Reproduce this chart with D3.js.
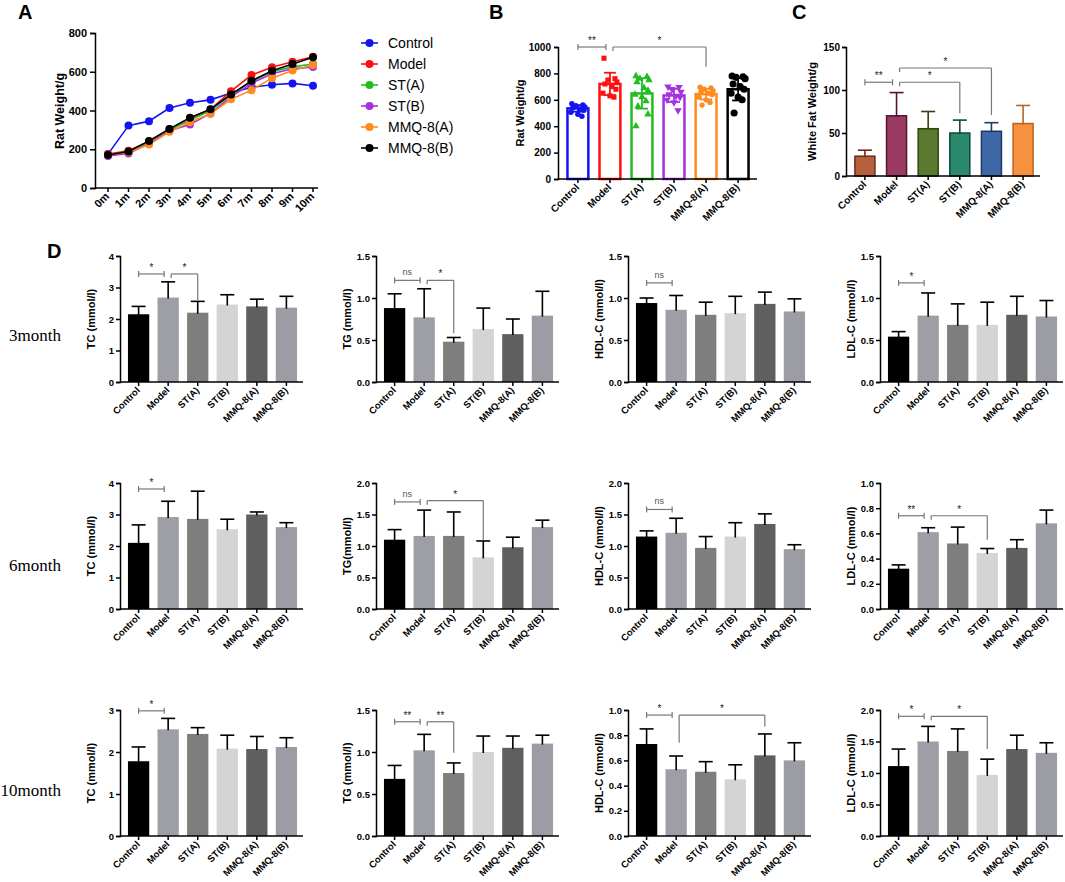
<!DOCTYPE html>
<html>
<head>
<meta charset="utf-8">
<style>
  body { margin: 0; background: #fff; }
  text { font-family: "Liberation Sans", Arial, sans-serif; }
</style>
</head>
<body>
<script src="https://cdn.jsdelivr.net/npm/d3@7"></script>
<script>
// ---- data ----
var groups = ["Control", "Model", "ST(A)", "ST(B)", "MMQ-8(A)", "MMQ-8(B)"];
var months = ["0m", "1m", "2m", "3m", "4m", "5m", "6m", "7m", "8m", "9m", "10m"];

// A: body weight over time
var wControl = [175, 322, 345, 413, 440, 455, 490, 520, 533, 540, 528];
var wModel   = [175, 192, 240, 305, 360, 405, 500, 583, 623, 652, 677];
var wSTA     = [170, 185, 235, 300, 350, 400, 480, 550, 600, 625, 640];
var wSTB     = [165, 178, 230, 295, 328, 385, 470, 540, 590, 615, 625];
var wMMQA    = [170, 185, 225, 290, 340, 383, 458, 505, 567, 607, 635];
var wMMQB    = [170, 188, 243, 305, 363, 407, 483, 553, 605, 640, 675];

// B: final body weight, mean, sd and single rats
var finalMean = [535, 720, 648, 633, 643, 680];
var finalSD   = [25, 85, 115, 50, 40, 85];
var ratsControl = [570, 560, 555, 545, 540, 530, 520, 505, 490, 475];
var ratsModel   = [915, 760, 750, 735, 720, 700, 680, 650, 630, 620];
var ratsSTA     = [780, 775, 760, 750, 735, 690, 670, 640, 620, 590, 550, 490, 400];
var ratsSTB     = [700, 695, 680, 660, 640, 630, 620, 600, 580, 520];
var ratsMMQA    = [695, 690, 680, 670, 660, 650, 640, 620, 600, 580, 560];
var ratsMMQB    = [780, 775, 770, 760, 720, 700, 680, 650, 620, 600, 500];

// C: white fat weight
var fatMean = [23, 70, 55, 50, 52, 61];
var fatTop  = [30, 97, 75, 65, 62, 82];

// D: blood lipids (mean, top of error bar)
var tc3   = [2.15, 2.68, 2.20, 2.46, 2.40, 2.36], tc3Top  = [2.40, 3.18, 2.56, 2.77, 2.63, 2.72];
var tg3   = [0.88, 0.77, 0.48, 0.63, 0.57, 0.79], tg3Top  = [1.05, 1.11, 0.53, 0.88, 0.75, 1.08];
var hdl3  = [0.94, 0.86, 0.80, 0.82, 0.93, 0.84], hdl3Top = [1.00, 1.03, 0.95, 1.02, 1.07, 0.99];
var ldl3  = [0.54, 0.79, 0.68, 0.68, 0.80, 0.78], ldl3Top = [0.60, 1.06, 0.93, 0.95, 1.02, 0.97];

var tc6   = [2.10, 2.92, 2.86, 2.53, 3.00, 2.60], tc6Top  = [2.67, 3.42, 3.74, 2.85, 3.08, 2.74];
var tg6   = [1.10, 1.16, 1.16, 0.82, 0.98, 1.30], tg6Top  = [1.26, 1.57, 1.54, 1.08, 1.14, 1.41];
var hdl6  = [1.15, 1.21, 0.97, 1.15, 1.35, 0.95], hdl6Top = [1.24, 1.44, 1.15, 1.37, 1.51, 1.02];
var ldl6  = [0.32, 0.61, 0.52, 0.445, 0.485, 0.68], ldl6Top = [0.35, 0.645, 0.65, 0.48, 0.55, 0.785];

var tc10  = [1.78, 2.54, 2.43, 2.08, 2.07, 2.12], tc10Top  = [2.12, 2.80, 2.58, 2.40, 2.37, 2.34];
var tg10  = [0.68, 1.02, 0.75, 1.00, 1.05, 1.10], tg10Top  = [0.84, 1.21, 0.87, 1.19, 1.19, 1.20];
var hdl10 = [0.73, 0.53, 0.51, 0.45, 0.64, 0.60], hdl10Top = [0.85, 0.635, 0.59, 0.565, 0.81, 0.74];
var ldl10 = [1.11, 1.50, 1.35, 0.97, 1.38, 1.32], ldl10Top = [1.38, 1.74, 1.70, 1.22, 1.60, 1.48];

// ---- styles ----
var lineColors = ["#1414f0", "#ff1010", "#22bb22", "#a530e0", "#ff8a1e", "#000000"];
var fatFill   = ["#b5613e", "#9b3a63", "#5b7a2e", "#2b8a6e", "#3f68a6", "#f6923f"];
var fatStroke = ["#6e2a14", "#55142f", "#2d4512", "#0f4a38", "#1d3766", "#b8641e"];
var grays = ["#000000", "#9e9ea6", "#7e7e7e", "#d4d4d4", "#5f5f5f", "#9c9ca4"];

var svg = d3.select("body").append("svg").attr("width", 1065).attr("height", 882);

function styleAxis(g, fs) {
  g.select(".domain").attr("stroke", "#000").attr("stroke-width", 1.5);
  g.selectAll(".tick line").attr("stroke", "#000").attr("stroke-width", 1.5);
  g.selectAll("text").attr("font-weight", "bold").attr("font-size", fs).attr("fill", "#000");
}

function panelLetter(t, x, y) {
  svg.append("text").attr("x", x).attr("y", y).attr("font-size", 20).attr("font-weight", "bold").text(t);
}

// x axis line + ticks + rotated labels for a band/point scale
function catAxis(g, x, x0, x1, y0, labels, fs, off) {
  g.append("line").attr("x1", x0).attr("x2", x1).attr("y1", y0).attr("y2", y0)
    .attr("stroke", "#000").attr("stroke-width", 1.5);
  labels.forEach(function (c) {
    var cx = x(c) + (x.bandwidth ? x.bandwidth() / 2 : 0);
    g.append("line").attr("x1", cx).attr("x2", cx).attr("y1", y0).attr("y2", y0 + 4)
      .attr("stroke", "#000").attr("stroke-width", 1.5);
    g.append("text").attr("transform", "translate(" + (cx + 2) + "," + (y0 + off) + ") rotate(-45)")
      .attr("text-anchor", "end").attr("font-size", fs).attr("font-weight", "bold").text(c);
  });
}

// significance bracket
function bracket(g, xa, xb, yy, label, yDrop, yLeftDrop) {
  var col = "#777";
  if (yDrop == null) {
    var xe = xb - 4;
    g.append("line").attr("x1", xa).attr("x2", xe).attr("y1", yy).attr("y2", yy).attr("stroke", col).attr("stroke-width", 1.2);
    g.append("line").attr("x1", xa).attr("x2", xa).attr("y1", yy - 3).attr("y2", yy + 3).attr("stroke", col).attr("stroke-width", 1.2);
    g.append("line").attr("x1", xe).attr("x2", xe).attr("y1", yy - 3).attr("y2", yy + 3).attr("stroke", col).attr("stroke-width", 1.2);
    xb = xe;
  } else {
    xa = xa + 3;
    g.append("line").attr("x1", xa).attr("x2", xb).attr("y1", yy).attr("y2", yy).attr("stroke", col).attr("stroke-width", 1.2);
    g.append("line").attr("x1", xa).attr("x2", xa).attr("y1", yy).attr("y2", yLeftDrop == null ? yy + 4 : yLeftDrop).attr("stroke", col).attr("stroke-width", 1.2);
    g.append("line").attr("x1", xb).attr("x2", xb).attr("y1", yy).attr("y2", yDrop).attr("stroke", col).attr("stroke-width", 1.2);
  }
  g.append("text").attr("x", (xa + xb) / 2).attr("y", label === "ns" ? yy - 5 : yy - 3)
    .attr("text-anchor", "middle").attr("font-size", label === "ns" ? 9 : 10)
    .attr("fill", label === "ns" ? "#555" : "#222").text(label);
}

// ---- A: line chart ----
(function () {
  var g = svg.append("g");
  var x = d3.scalePoint().domain(months).range([108, 313]);
  var y = d3.scaleLinear().domain([0, 800]).range([188, 33]);
  var ya = g.append("g").attr("transform", "translate(95,0)")
    .call(d3.axisLeft(y).tickValues([0, 200, 400, 600, 800]).tickSize(5).tickPadding(3));
  styleAxis(ya, 11);
  catAxis(g, x, 95, 318, 188, months, 11, 9);
  g.append("text").attr("transform", "translate(64,111) rotate(-90)").attr("text-anchor", "middle")
    .attr("font-size", 12.5).attr("font-weight", "bold").text("Rat Weight/g");
  var series = [wControl, wModel, wSTA, wSTB, wMMQA, wMMQB];
  var line = d3.line().x(function (d, i) { return x(months[i]); }).y(function (d) { return y(d); });
  series.forEach(function (s, k) {
    g.append("path").datum(s).attr("d", line).attr("fill", "none").attr("stroke", lineColors[k]).attr("stroke-width", 1.6);
    g.selectAll(null).data(s).join("circle")
      .attr("cx", function (d, i) { return x(months[i]); }).attr("cy", function (d) { return y(d); })
      .attr("r", 4).attr("fill", lineColors[k]);
  });
  groups.forEach(function (name, k) {
    var ly = 43 + 21 * k;
    g.append("line").attr("x1", 361).attr("x2", 378).attr("y1", ly).attr("y2", ly).attr("stroke", lineColors[k]).attr("stroke-width", 1.6);
    g.append("circle").attr("cx", 369.5).attr("cy", ly).attr("r", 4).attr("fill", lineColors[k]);
    g.append("text").attr("x", 388).attr("y", ly + 5).attr("font-size", 14).text(name);
  });
  panelLetter("A", 18, 19);
})();

// ---- B: final weight, bars with points ----
(function () {
  var g = svg.append("g");
  var x0 = 558, y0 = 179;
  var x = d3.scaleBand().domain(groups).range([x0 + 5, x0 + 195]).paddingInner(0.27).paddingOuter(0.1);
  var y = d3.scaleLinear().domain([0, 1000]).range([y0, 47]);
  var ya = g.append("g").attr("transform", "translate(" + x0 + ",0)")
    .call(d3.axisLeft(y).tickValues([0, 200, 400, 600, 800, 1000]).tickFormat(d3.format("d")).tickSize(4).tickPadding(3));
  styleAxis(ya, 10);
  var cx = function (i) { return x(groups[i]) + x.bandwidth() / 2; };
  g.selectAll(null).data(finalMean).join("rect")
    .attr("x", function (d, i) { return x(groups[i]) + 1.25; })
    .attr("y", function (d) { return y(d); })
    .attr("width", x.bandwidth() - 2.5)
    .attr("height", function (d) { return y0 - y(d); })
    .attr("fill", "#fff").attr("stroke", function (d, i) { return lineColors[i]; }).attr("stroke-width", 2.5);
  var rats = [ratsControl, ratsModel, ratsSTA, ratsSTB, ratsMMQA, ratsMMQB];
  var shapes = [d3.symbolCircle, d3.symbolSquare, d3.symbolTriangle, d3.symbolTriangle, d3.symbolCircle, d3.symbolCircle];
  var sizes = [24, 26, 24, 24, 22, 40];
  var jit = [-6, 5, -2, 7, -5, 2, 6, -7, 0, 4, -4, 6, -6];
  rats.forEach(function (arr, k) {
    g.selectAll(null).data(arr).join("path")
      .attr("d", d3.symbol().type(shapes[k]).size(sizes[k]))
      .attr("transform", function (d, i) {
        return "translate(" + (cx(k) + jit[i % jit.length]) + "," + y(d) + ")" + (k === 3 ? " rotate(180)" : "");
      })
      .attr("fill", lineColors[k]);
  });
  finalMean.forEach(function (m, i) {
    var c = cx(i), t = y(m + finalSD[i]), b = y(m - finalSD[i]);
    g.append("line").attr("x1", c).attr("x2", c).attr("y1", t).attr("y2", b).attr("stroke", lineColors[i]).attr("stroke-width", 1.8);
    g.append("line").attr("x1", c - 6).attr("x2", c + 6).attr("y1", t).attr("y2", t).attr("stroke", lineColors[i]).attr("stroke-width", 1.8);
    g.append("line").attr("x1", c - 6).attr("x2", c + 6).attr("y1", b).attr("y2", b).attr("stroke", lineColors[i]).attr("stroke-width", 1.8);
  });
  catAxis(g, x, x0, x0 + 199, y0, groups, 10, 9);
  g.append("text").attr("transform", "translate(524,113) rotate(-90)").attr("text-anchor", "middle")
    .attr("font-size", 11).attr("font-weight", "bold").text("Rat Weight/g");
  bracket(g, cx(0), cx(1), y(1000), "**");
  bracket(g, cx(1), cx(4), y(1000), "*", y(850));
  panelLetter("B", 489, 19);
})();

// ---- generic bar panel with upward error bars ----
function barPanel(opt) {
  var g = svg.append("g");
  var x0 = opt.x0, y0 = opt.y0;
  var x = d3.scaleBand().domain(groups).range([x0 + 5, x0 + opt.w - 3]).paddingInner(opt.pad).paddingOuter(0.1);
  var y = d3.scaleLinear().domain([0, opt.max]).range([y0, y0 - opt.h]);
  var cx = function (i) { return x(groups[i]) + x.bandwidth() / 2; };
  var sw = opt.stroke ? 1.5 : 0;
  g.selectAll(null).data(opt.mean).join("rect")
    .attr("x", function (d, i) { return x(groups[i]) + sw / 2; })
    .attr("y", function (d) { return y(d); })
    .attr("width", x.bandwidth() - sw)
    .attr("height", function (d) { return y0 - y(d); })
    .attr("fill", function (d, i) { return opt.fill[i]; })
    .attr("stroke", function (d, i) { return opt.stroke ? opt.stroke[i] : "none"; })
    .attr("stroke-width", sw);
  opt.mean.forEach(function (m, i) {
    var c = cx(i), t = y(opt.top[i]);
    var col = opt.stroke ? opt.stroke[i] : "#000";
    g.append("line").attr("x1", c).attr("x2", c).attr("y1", y(m) + 1).attr("y2", t).attr("stroke", col).attr("stroke-width", 1.6);
    g.append("line").attr("x1", c - 7).attr("x2", c + 7).attr("y1", t).attr("y2", t).attr("stroke", col).attr("stroke-width", 1.6);
  });
  var ya = g.append("g").attr("transform", "translate(" + x0 + ",0)")
    .call(d3.axisLeft(y).tickValues(d3.range(0, opt.max + opt.step / 2, opt.step)).tickFormat(d3.format(opt.fmt)).tickSize(4).tickPadding(2));
  styleAxis(ya, opt.fs);
  catAxis(g, x, x0, x0 + opt.w, y0, groups, opt.catFs || opt.fs, 9);
  g.append("text").attr("transform", "translate(" + (x0 - opt.labOff) + "," + (y0 - opt.h / 2) + ") rotate(-90)")
    .attr("text-anchor", "middle").attr("font-size", opt.labFs).attr("font-weight", "bold").text(opt.label);
  (opt.sig || []).forEach(function (s) {
    bracket(g, cx(s[0]), cx(s[1]), y(s[2]), s[3], s[4] == null ? null : y(s[4]), s[5] == null ? null : y(s[5]));
  });
}

// ---- C: white fat ----
barPanel({ x0: 846, y0: 176, w: 194, h: 129, max: 150, step: 50, fmt: "d", fs: 10,
  mean: fatMean, top: fatTop, fill: fatFill, stroke: fatStroke, pad: 0.32,
  label: "White Fat Weight/g", labFs: 11, labOff: 30,
  sig: [[0, 1, 109, "**"], [1, 3, 109, "*", 73], [1, 4, 125.6, "*", 71]] });
panelLetter("C", 792, 19);

// ---- D: lipid panels ----
var colX = [120, 376, 628, 880];
var rowY = [382, 609, 836];
var dPanels = [
  [tc3, tc3Top, 4, 1, "d", "TC (mmol/l)", [[0, 1, 3.43, "*"], [1, 2, 3.43, "*", 2.6]]],
  [tg3, tg3Top, 1.5, 0.5, ".1f", "TG (mmol/l)", [[0, 1, 1.21, "ns"], [1, 2, 1.21, "*", 0.58]]],
  [hdl3, hdl3Top, 1.5, 0.5, ".1f", "HDL-C (mmol/l)", [[0, 1, 1.18, "ns"]]],
  [ldl3, ldl3Top, 1.5, 0.5, ".1f", "LDL-C (mmol/l)", [[0, 1, 1.18, "*"]]],
  [tc6, tc6Top, 4, 1, "d", "TC (mmol/l)", [[0, 1, 3.81, "*"]]],
  [tg6, tg6Top, 2, 0.5, ".1f", "TG(mmol/l)", [[0, 1, 1.7, "ns"], [1, 3, 1.72, "*", 1.1]]],
  [hdl6, hdl6Top, 2, 0.5, ".1f", "HDL-C (mmol/l)", [[0, 1, 1.58, "ns"]]],
  [ldl6, ldl6Top, 1, 0.2, ".1f", "LDL-C (mmol/l)", [[0, 1, 0.74, "**"], [1, 3, 0.74, "*", 0.55]]],
  [tc10, tc10Top, 3, 1, "d", "TC (mmol/l)", [[0, 1, 2.98, "*"]]],
  [tg10, tg10Top, 1.5, 0.5, ".1f", "TG (mmol/l)", [[0, 1, 1.36, "**"], [1, 2, 1.36, "**", 0.99]]],
  [hdl10, hdl10Top, 1, 0.2, ".1f", "HDL-C (mmol/l)", [[0, 1, 0.96, "*"], [1, 4, 0.96, "*", 0.87, 0.74]]],
  [ldl10, ldl10Top, 2, 0.5, ".1f", "LDL-C (mmol/l)", [[0, 1, 1.9, "*"], [1, 3, 1.9, "*", 1.38]]]
];
dPanels.forEach(function (p, k) {
  barPanel({ x0: colX[k % 4], y0: rowY[Math.floor(k / 4)], w: 183, h: 126, max: p[2], step: p[3], fmt: p[4], fs: 9.5,
    catFs: 9.5, mean: p[0], top: p[1], fill: grays, stroke: null, pad: 0.28,
    label: p[5], labFs: 11, labOff: 25, sig: p[6] });
});
panelLetter("D", 47, 258);

var rowLabels = ["3month", "6month", "10month"];
var rowLabelY = [335, 565, 790];
rowLabels.forEach(function (t, i) {
  svg.append("text").attr("x", 61).attr("y", rowLabelY[i] + 6).attr("text-anchor", "end")
    .style("font-family", "'Liberation Serif', 'DejaVu Serif', serif").attr("font-size", 17).text(t);
});
</script>
</body>
</html>
